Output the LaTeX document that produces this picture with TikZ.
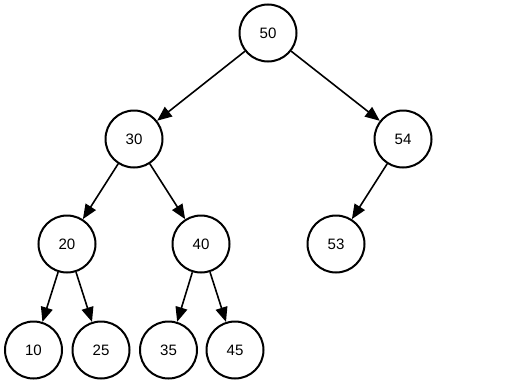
\documentclass[tikz,border=0pt]{standalone}
\usepackage{fontspec}
\setmainfont{Liberation Sans}
\usepackage{tikz}
\usetikzlibrary{arrows.meta, positioning}

\tikzset{
  vertex/.style={circle, draw, line width=1.5pt, minimum size=42.75pt,
    inner sep=0pt, font=\fontsize{11.3}{13}\selectfont},
  treeedge/.style={-{Triangle[length=11pt,width=9pt]}, line width=1.2pt}
}

\begin{document}
\begin{tikzpicture}[x=0.75pt, y=-0.75pt]
        \useasboundingbox (0,0) rectangle (505,385);
        \foreach \n/\x/\y in
          {50/268/33, 30/134/139, 54/403/139,
           20/67/244, 40/201/244, 53/336/244,
           10/33.5/350, 25/101/350, 35/168.5/350, 45/235/350}
        {
          \node[vertex] (n\n) at (\x,\y) {\n};
        }
        \foreach \a/\b in
          {50/30, 50/54, 30/20, 30/40, 54/53,
           20/10, 20/25, 40/35, 40/45}
        {
          \draw[treeedge] (n\a) -- (n\b);
        }
      \end{tikzpicture}
\end{document}
